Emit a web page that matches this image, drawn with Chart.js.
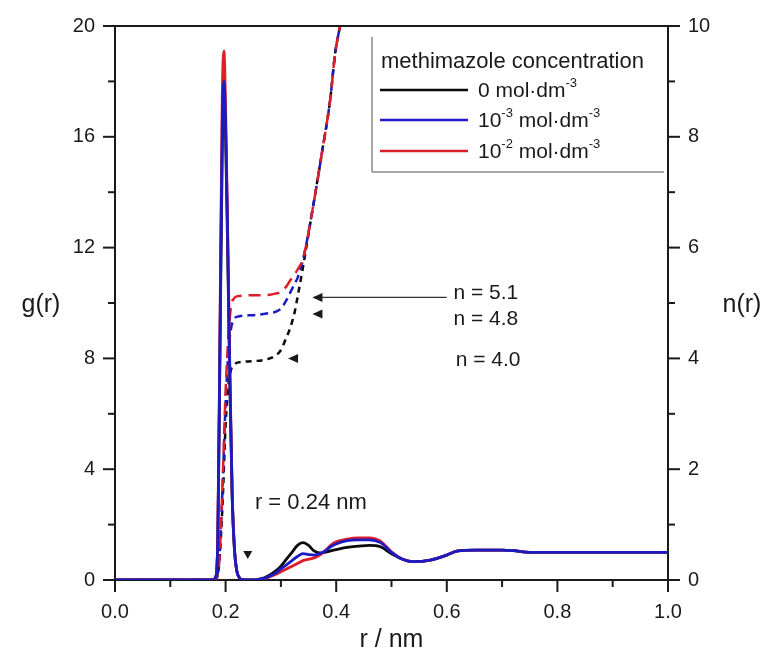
<!DOCTYPE html>
<html>
<head>
<meta charset="utf-8">
<script src="https://cdn.jsdelivr.net/npm/chart.js@4.4.1/dist/chart.umd.min.js"></script>
<style>
  html, body { margin: 0; padding: 0; background: #fff; }
  #wrap { width: 773px; height: 662px; }
</style>
</head>
<body>
<div id="wrap"><canvas id="rdf" width="773" height="662"></canvas></div>
<script>
// g(r) curves, left axis
const rG = [0, 0.05, 0.1, 0.15, 0.175, 0.182, 0.186, 0.19, 0.194, 0.197, 0.2, 0.204, 0.208, 0.212, 0.216,
            0.22, 0.225, 0.23, 0.25, 0.26, 0.27, 0.28, 0.29, 0.3, 0.31, 0.32, 0.33, 0.34, 0.35, 0.36,
            0.37, 0.38, 0.39, 0.4, 0.42, 0.44, 0.46, 0.48, 0.5, 0.52, 0.54, 0.57, 0.6, 0.62, 0.65,
            0.7, 0.72, 0.75, 0.8, 0.9, 1.0];
const gBlack = [0, 0, 0, 0, 0, 0.1, 1.5, 8.5, 15.5, 17.2, 16, 11.5, 6.8, 2.9, 1.1,
                0.35, 0.08, 0.01, 0, 0.03, 0.08, 0.18, 0.32, 0.5, 0.75, 1.0, 1.25, 1.35, 1.25, 1.05,
                0.98, 1.0, 1.05, 1.1, 1.18, 1.22, 1.25, 1.2, 0.95, 0.75, 0.66, 0.72, 0.9, 1.05, 1.08,
                1.08, 1.06, 1.0, 1.0, 1.0, 1.0];
const gBlue = [0, 0, 0, 0, 0, 0.1, 1.6, 9, 16.5, 18, 16.5, 12, 7, 3, 1.1,
               0.35, 0.08, 0.01, 0, 0.02, 0.06, 0.14, 0.25, 0.4, 0.55, 0.7, 0.85, 0.95, 0.92, 0.9,
               0.95, 1.05, 1.2, 1.3, 1.42, 1.45, 1.45, 1.35, 1.0, 0.75, 0.66, 0.72, 0.9, 1.05, 1.08,
               1.08, 1.06, 1.0, 1.0, 1.0, 1.0];
const gRed = [0, 0, 0, 0, 0, 0.1, 1.7, 9.5, 17.5, 19.1, 17, 12.3, 7.2, 3.1, 1.15,
              0.35, 0.08, 0.01, 0, 0.02, 0.05, 0.12, 0.2, 0.3, 0.4, 0.5, 0.6, 0.7, 0.75, 0.8,
              0.9, 1.05, 1.25, 1.38, 1.48, 1.52, 1.52, 1.4, 1.02, 0.75, 0.66, 0.72, 0.9, 1.05, 1.08,
              1.08, 1.06, 1.0, 1.0, 1.0, 1.0];

// n(r) running coordination numbers, right axis
const rN = [0, 0.1, 0.18, 0.186, 0.19, 0.195, 0.2, 0.205, 0.21, 0.215, 0.22, 0.25, 0.28, 0.29, 0.3,
            0.31, 0.315, 0.32, 0.325, 0.33, 0.34, 0.358, 0.374, 0.389, 0.398, 0.407];
const nBlack = [0, 0, 0, 0.1, 0.5, 1.5, 2.8, 3.5, 3.8, 3.88, 3.92, 3.95, 4.0, 4.05, 4.15,
                4.38, 4.5, 4.65, 4.84, 5.1, 5.65, 6.73, 7.7, 8.66, 9.5, 10];
const nBlue = [0, 0, 0, 0.12, 0.6, 1.8, 3.2, 4.1, 4.55, 4.7, 4.75, 4.78, 4.82, 4.84, 4.9,
               5.05, 5.15, 5.25, 5.35, 5.45, 5.78, 6.73, 7.7, 8.66, 9.5, 10];
const nRed = [0, 0, 0, 0.12, 0.6, 1.9, 3.4, 4.4, 4.95, 5.08, 5.12, 5.14, 5.15, 5.17, 5.2,
              5.3, 5.38, 5.45, 5.52, 5.6, 5.8, 6.73, 7.7, 8.66, 9.5, 10];

const legendTitle = 'methimazole concentration';
const legendEntries = [
    [{ t: '0 mol·dm' }, { t: '-3', sup: true }],
    [{ t: '10' }, { t: '-3', sup: true }, { t: ' mol·dm' }, { t: '-3', sup: true }],
    [{ t: '10' }, { t: '-2', sup: true }, { t: ' mol·dm' }, { t: '-3', sup: true }]
];

const black = '#0a0a0a';
const blue = '#1b1bc6';
const red = '#dc1e28';
const ink = '#1a1a1a';
const fontFam = '"Liberation Sans", Arial, sans-serif';

const pts = (xs, ys) => xs.map((x, i) => ({ x: x, y: ys[i] }));

function solid(data, color) {
    return {
        data: data, yAxisID: 'y', borderColor: color, borderWidth: 2.8,
        pointRadius: 0, fill: false, cubicInterpolationMode: 'monotone'
    };
}
function dashed(data, color, dash) {
    return {
        data: data, yAxisID: 'y2', borderColor: color, borderWidth: 2.5, borderDash: dash,
        pointRadius: 0, fill: false, cubicInterpolationMode: 'monotone'
    };
}

function line(ctx, x1, y1, x2, y2) {
    ctx.beginPath();
    ctx.moveTo(x1, y1);
    ctx.lineTo(x2, y2);
    ctx.stroke();
}

// text with raised small pieces, e.g. dm-3
function richText(ctx, parts, x, y, size) {
    let cx = x;
    parts.forEach(p => {
        ctx.font = (p.sup ? Math.round(size * 0.62) : size) + 'px ' + fontFam;
        ctx.fillText(p.t, cx, p.sup ? y - size * 0.38 : y);
        cx += ctx.measureText(p.t).width;
    });
}

const decorations = {
    id: 'decorations',
    afterDraw(chart) {
        const { ctx, chartArea: a, scales } = chart;
        const sx = scales.x, sy = scales.y, sy2 = scales.y2;
        ctx.save();
        ctx.strokeStyle = ink;
        ctx.fillStyle = ink;
        ctx.lineWidth = 2;

        // top frame line
        line(ctx, a.left - 1, a.top, a.right + 1, a.top);

        // tick marks, long for labelled ones
        sx.ticks.forEach(t => {
            const p = sx.getPixelForValue(t.value);
            line(ctx, p, a.bottom, p, a.bottom + (t.label !== '' ? 12 : 7));
        });
        sy.ticks.forEach(t => {
            const p = sy.getPixelForValue(t.value);
            line(ctx, a.left - (t.label !== '' ? 12 : 7), p, a.left, p);
        });
        sy2.ticks.forEach(t => {
            const p = sy2.getPixelForValue(t.value);
            line(ctx, a.right, p, a.right + (t.label !== '' ? 12 : 7), p);
        });

        // axis titles
        ctx.font = '25px ' + fontFam;
        ctx.textBaseline = 'middle';
        ctx.textAlign = 'center';
        ctx.fillText('g(r)', 41, 305);
        ctx.fillText('n(r)', 742, 305);
        ctx.fillText('r / nm', (a.left + a.right) / 2, 640);

        // legend box
        ctx.strokeStyle = '#8a8a8a';
        ctx.lineWidth = 1.5;
        line(ctx, 372, 37, 372, 172);
        line(ctx, 372, 172, 664, 172);
        ctx.textAlign = 'left';
        ctx.fillStyle = ink;
        ctx.font = '22px ' + fontFam;
        ctx.fillText(legendTitle, 381, 62);
        const lineColors = [black, blue, red];
        const rowsY = [90, 120, 151];
        legendEntries.forEach((parts, i) => {
            ctx.strokeStyle = lineColors[i];
            ctx.lineWidth = 2.5;
            line(ctx, 380, rowsY[i], 468, rowsY[i]);
            ctx.fillStyle = ink;
            richText(ctx, parts, 478, rowsY[i] + 1, 21);
        });

        // coordination number annotations
        ctx.strokeStyle = '#333';
        ctx.fillStyle = ink;
        ctx.lineWidth = 1.2;
        const arrowY = sy2.getPixelForValue(5.1);
        line(ctx, sx.getPixelForValue(0.6), arrowY, sx.getPixelForValue(0.36), arrowY);
        const headLeft = (tipX, tipY) => {
            ctx.beginPath();
            ctx.moveTo(tipX, tipY);
            ctx.lineTo(tipX + 10, tipY - 4.5);
            ctx.lineTo(tipX + 10, tipY + 4.5);
            ctx.closePath();
            ctx.fill();
        };
        headLeft(sx.getPixelForValue(0.357), arrowY);
        headLeft(sx.getPixelForValue(0.357), sy2.getPixelForValue(4.8));
        headLeft(sx.getPixelForValue(0.313), sy2.getPixelForValue(4.0));

        ctx.font = '21px ' + fontFam;
        ctx.textAlign = 'left';
        ctx.fillText('n = 5.1', sx.getPixelForValue(0.612), sy2.getPixelForValue(5.18));
        ctx.fillText('n = 4.8', sx.getPixelForValue(0.612), sy2.getPixelForValue(4.71));
        ctx.fillText('n = 4.0', sx.getPixelForValue(0.616), sy2.getPixelForValue(3.97));

        ctx.font = '22px ' + fontFam;
        ctx.fillText('r = 0.24 nm', sx.getPixelForValue(0.253), sy.getPixelForValue(2.78));
        const tx = sx.getPixelForValue(0.24), ty = sy.getPixelForValue(0.9);
        ctx.beginPath();
        ctx.moveTo(tx - 4.5, ty - 4);
        ctx.lineTo(tx + 4.5, ty - 4);
        ctx.lineTo(tx, ty + 4);
        ctx.closePath();
        ctx.fill();

        ctx.restore();
    }
};

const tickFont = { family: fontFam, size: 20 };

new Chart(document.getElementById('rdf'), {
    type: 'line',
    data: {
        datasets: [
            solid(pts(rG, gBlue), blue),
            solid(pts(rG, gRed), red),
            solid(pts(rG, gBlack), black),
            dashed(pts(rN, nRed), red, [12, 7]),
            dashed(pts(rN, nBlue), blue, [8, 5]),
            dashed(pts(rN, nBlack), black, [6, 5])
        ]
    },
    options: {
        responsive: false,
        animation: false,
        layout: { padding: { top: 26, left: 0, right: 0, bottom: 0 } },
        plugins: { legend: { display: false }, tooltip: { enabled: false } },
        scales: {
            x: {
                type: 'linear', min: 0, max: 1,
                ticks: {
                    stepSize: 0.1, autoSkip: false, maxRotation: 0, padding: 8,
                    color: ink, font: tickFont,
                    callback: v => (Math.round(v * 10) % 2 === 0 ? v.toFixed(1) : '')
                },
                grid: { drawOnChartArea: false, tickLength: 12, color: 'rgba(0,0,0,0)' },
                border: { color: ink, width: 2 },
                afterFit: s => { s.height = 82; }
            },
            y: {
                position: 'left', min: 0, max: 20,
                ticks: {
                    stepSize: 2, autoSkip: false, padding: 8, color: ink, font: tickFont,
                    callback: v => (v % 4 === 0 ? String(v) : '')
                },
                grid: { drawOnChartArea: false, tickLength: 12, color: 'rgba(0,0,0,0)' },
                border: { color: ink, width: 2 },
                afterFit: s => { s.width = 115; }
            },
            y2: {
                position: 'right', min: 0, max: 10,
                ticks: {
                    stepSize: 1, autoSkip: false, padding: 8, color: ink, font: tickFont,
                    callback: v => (v % 2 === 0 ? String(v) : '')
                },
                grid: { drawOnChartArea: false, tickLength: 12, color: 'rgba(0,0,0,0)' },
                border: { color: ink, width: 2 },
                afterFit: s => { s.width = 105; }
            }
        }
    },
    plugins: [decorations]
});
</script>
</body>
</html>
